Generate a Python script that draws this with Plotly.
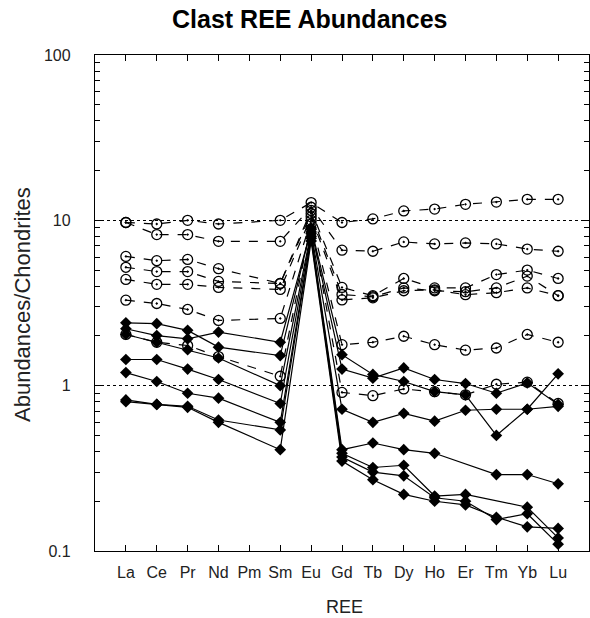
import plotly.graph_objects as go

ree = ["La", "Ce", "Pr", "Nd", "Pm", "Sm", "Eu", "Gd", "Tb", "Dy", "Ho", "Er", "Tm", "Yb", "Lu"]

# Dashed series (open circles)
d1 = [9.7, 9.5, 10.0, 9.5, None, 10.0, 12.8, 9.7, 10.2, 11.4, 11.7, 12.5, 12.9, 13.4, 13.4]
d2 = [9.7, 8.2, 8.2, 7.46, None, 7.46, 12.0, 6.6, 6.5, 7.4, 7.2, 7.3, 7.2, 6.7, 6.5]
d3 = [6.05, 5.7, 5.8, 5.1, None, 4.15, 11.5, 3.93, 3.5, 4.45, 3.9, 3.9, 4.7, 5.0, 4.45]
d4 = [5.2, 4.9, 4.9, 4.27, None, 4.15, 11.0, 3.56, 3.45, 3.9, 3.75, 3.7, 3.9, 4.6, 3.5]
d5 = [4.39, 4.1, 4.1, 3.93, None, 3.82, 10.5, 3.3, 3.4, 3.75, 3.8, 3.55, 3.65, 3.9, 3.5]
d6 = [3.29, 3.14, 2.89, 2.48, None, 2.55, 10.0, 1.77, 1.83, 1.99, 1.77, 1.64, 1.69, 2.04, 1.83]
d7 = [2.04, 1.83, 1.75, 1.5, None, 1.14, 9.5, 0.91, 0.87, 0.955, 0.92, 0.88, 1.02, 1.05, 0.78]

# Solid series (filled diamonds)
s1 = [2.40, 2.37, 2.16, 1.71, None, 1.52, 9.0, 1.54, 1.17, 1.06, 0.92, 0.88, 0.50, 0.72, 1.18]
s2 = [2.21, 2.01, 1.92, 2.11, None, 1.83, 8.8, 1.26, 1.11, 1.28, 1.09, 1.03, 0.90, 1.04, 0.77]
s3 = [2.04, 1.83, 1.65, 1.47, None, 1.00, 8.5, 0.72, 0.60, 0.68, 0.61, 0.71, 0.72, 0.72, 0.75]
s4 = [1.44, 1.44, 1.26, 1.09, None, 0.78, 8.3, 0.41, 0.45, 0.41, 0.39, None, 0.29, 0.29, 0.255]
s5 = [1.20, 1.06, 0.90, 0.84, None, 0.60, 8.0, 0.39, 0.32, 0.33, 0.215, 0.22, None, 0.184, 0.12]
s6 = [0.82, 0.77, 0.75, 0.62, None, 0.54, 7.8, 0.37, 0.30, 0.285, 0.21, 0.20, 0.155, 0.168, 0.11]
s7 = [0.80, 0.77, 0.74, 0.60, None, 0.41, 7.5, 0.35, 0.27, 0.22, 0.20, 0.19, 0.16, 0.14, 0.137]

dashed = [d1, d2, d3, d4, d5, d6, d7]
solid = [s1, s2, s3, s4, s5, s6, s7]

y_tickvals = [0.1, 1, 10, 100]
y_ticktext = ["0.1", "1", "10", "100"]
minor_vals = [m * 10 ** e for e in (-1, 0, 1) for m in range(2, 10)]

FONT = "Liberation Sans, Arial, sans-serif"

fig = go.Figure()
for s in dashed:
    fig.add_trace(go.Scatter(
        x=ree, y=s, mode="lines+markers", connectgaps=True,
        line=dict(color="black", width=1.2, dash="dash"),
        marker=dict(symbol="circle-open-dot", size=10, color="black", line=dict(width=1.3)),
        showlegend=False))
for s in solid:
    fig.add_trace(go.Scatter(
        x=ree, y=s, mode="lines+markers", connectgaps=True,
        line=dict(color="black", width=1.2),
        marker=dict(symbol="diamond", size=9, color="black"),
        showlegend=False))
# invisible helper trace so the minor-tick overlay axis is drawn
fig.add_trace(go.Scatter(x=[ree[0]], y=[1], yaxis="y2", mode="markers",
                         marker=dict(opacity=0), showlegend=False, hoverinfo="skip"))

L, R, T, B = 95, 1, 55, 67
W, H = 590, 618
pw, ph = W - L - R, H - T - B

def px(x):
    return (x - L) / pw

def py(y):
    return (H - B - y) / ph

fig.update_layout(
    width=W, height=H,
    margin=dict(l=L, r=R, t=T, b=B),
    paper_bgcolor="white", plot_bgcolor="white",
    font=dict(family=FONT, size=16, color="#222"),
    xaxis=dict(type="category", categoryorder="array", categoryarray=ree,
               range=[-1, 15], showline=True, linecolor="black", linewidth=1.3,
               mirror="ticks", ticks="inside", ticklen=6, tickcolor="black",
               showgrid=False, zeroline=False, ticklabelstandoff=7,
               tickfont=dict(size=16, color="#222")),
    yaxis=dict(type="log", range=[-1, 2], showline=True, linecolor="black",
               linewidth=1.3, mirror="ticks", ticks="inside", ticklen=7,
               tickcolor="black", tickvals=y_tickvals, ticktext=y_ticktext,
               showgrid=True, gridcolor="black", griddash="dot", gridwidth=1,
               zeroline=False, ticklabelstandoff=20,
               tickfont=dict(size=16, color="#222")),
    yaxis2=dict(type="log", range=[-1, 2], overlaying="y", side="left",
                showline=False, mirror="ticks", ticks="inside", ticklen=5,
                tickwidth=1.2, tickcolor="black", tickvals=minor_vals,
                showticklabels=False, showgrid=False, zeroline=False),
    annotations=[
        dict(text="<b>Clast REE Abundances</b>", x=px(310), y=py(19),
             xref="paper", yref="paper", xanchor="center", yanchor="middle",
             showarrow=False, font=dict(size=25, color="black", family=FONT)),
        dict(text="Abundances/Chondrites", x=px(22), y=py(305),
             xref="paper", yref="paper", xanchor="center", yanchor="middle",
             textangle=-90, showarrow=False, font=dict(size=22, color="#222", family=FONT)),
        dict(text="REE", x=px(344), y=py(607),
             xref="paper", yref="paper", xanchor="center", yanchor="middle",
             showarrow=False, font=dict(size=18, color="#222", family=FONT)),
    ],
)

fig.write_html("out.html")
